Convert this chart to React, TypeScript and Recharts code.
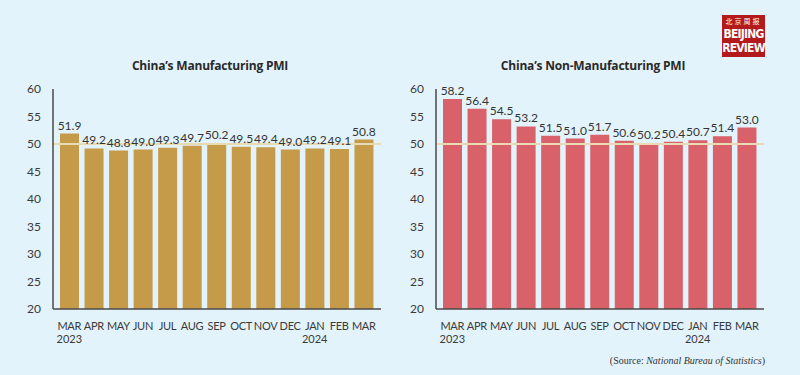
import React from 'react';
import { BarChart, Bar, XAxis, YAxis, ReferenceLine, LabelList } from 'recharts';

const MONTHS = ['MAR', 'APR', 'MAY', 'JUN', 'JUL', 'AUG', 'SEP', 'OCT', 'NOV', 'DEC', 'JAN', 'FEB', 'MAR'];
const YEARS = ['2023', '', '', '', '', '', '', '', '', '', '2024', '', ''];
const MANUFACTURING = [51.9, 49.2, 48.8, 49.0, 49.3, 49.7, 50.2, 49.5, 49.4, 49.0, 49.2, 49.1, 50.8];
const NON_MANUFACTURING = [58.2, 56.4, 54.5, 53.2, 51.5, 51.0, 51.7, 50.6, 50.2, 50.4, 50.7, 51.4, 53.0];
const Y_TICKS = [20, 25, 30, 35, 40, 45, 50, 55, 60];

const BG = '#e3f3fb';
const TITLE_FONT = '"Open Sans", "Noto Sans", sans-serif';
const FONT = 'Lato, "Open Sans", sans-serif';
const AXIS = '#4a4a4a';

const buildData = (values: number[]) =>
  MONTHS.map((m, i) => ({ key: `${m}-${i}`, month: m, year: YEARS[i], value: values[i] }));

function MonthTick({ x, y, payload }: { x?: number; y?: number; payload?: { index: number } }) {
  const i = payload?.index ?? 0;
  return (
    <g>
      <text x={x} y={y} dy={13} textAnchor="middle" fill="#3a3a3a" fontSize={11} fontFamily={FONT} style={{ letterSpacing: '-0.3px' }}>
        {MONTHS[i]}
      </text>
      {YEARS[i] && (
        <text x={x} y={y} dy={26} textAnchor="middle" fill="#3a3a3a" fontSize={11} fontFamily={FONT}>
          {YEARS[i]}
        </text>
      )}
    </g>
  );
}

function PmiChart({ title, values, color }: { title: string; values: number[]; color: string }) {
  const data = buildData(values);
  return (
    <div style={{ position: 'relative', width: 400, height: 375 }}>
      <div
        style={{
          position: 'absolute',
          top: 57,
          left: 0,
          width: 420,
          textAlign: 'center',
          fontFamily: TITLE_FONT,
          fontWeight: 700,
          fontSize: 12,
          color: '#2a2a2a',
          letterSpacing: '-0.2px',
        }}
      >
        {title}
      </div>
      <BarChart width={400} height={375} data={data} margin={{ top: 89, right: 19, left: 0, bottom: 26 }}>
        <XAxis
          dataKey="key"
          interval={0}
          height={40}
          tickLine={false}
          axisLine={{ stroke: AXIS, strokeWidth: 1.5 }}
          tick={<MonthTick />}
          padding={{ left: 4, right: 5 }}
        />
        <YAxis
          width={53}
          domain={[20, 60]}
          ticks={Y_TICKS}
          tickLine={false}
          axisLine={{ stroke: AXIS, strokeWidth: 1.5 }}
          tick={{ fill: '#3a3a3a', fontSize: 12, fontFamily: FONT }}
          tickMargin={6}
          allowDataOverflow
        />
        <Bar dataKey="value" fill={color} barSize={19} isAnimationActive={false}>
          <LabelList dataKey="value" position="top" offset={4} fill="#333" fontSize={12} fontFamily={FONT} formatter={(v: number) => v.toFixed(1)} />
        </Bar>
        <ReferenceLine y={50} stroke="#e8dbb3" strokeWidth={2} />
      </BarChart>
    </div>
  );
}

function Logo() {
  return (
    <div
      style={{
        position: 'absolute',
        left: 722,
        top: 15,
        width: 43,
        height: 42,
        background: '#b31a1c',
        color: '#fff',
        textAlign: 'center',
        fontFamily: '"DejaVu Sans Condensed", "Liberation Sans Narrow", sans-serif',
        fontWeight: 700,
        lineHeight: 1,
      }}
    >
      <div style={{ fontSize: 7, fontWeight: 400, marginTop: 3, fontFamily: '"Noto Sans CJK SC", sans-serif', letterSpacing: '2px' }}>北京周报</div>
      <div style={{ fontSize: 12, marginTop: 3, letterSpacing: '-0.8px' }}>BEIJING</div>
      <div style={{ fontSize: 12, marginTop: 2, letterSpacing: '-0.8px' }}>REVIEW</div>
    </div>
  );
}

export default function App() {
  return (
    <div style={{ position: 'absolute', left: 0, top: 0, width: 800, height: 375, background: BG, overflow: 'hidden' }}>
      <div style={{ position: 'absolute', left: 0, top: 0 }}>
        <PmiChart title="China’s Manufacturing PMI" values={MANUFACTURING} color="#c59a49" />
      </div>
      <div style={{ position: 'absolute', left: 383, top: 0 }}>
        <PmiChart title="China’s Non-Manufacturing PMI" values={NON_MANUFACTURING} color="#d9616a" />
      </div>
      <Logo />
      <div
        style={{
          position: 'absolute',
          right: 35,
          top: 355,
          fontFamily: '"Liberation Serif", "DejaVu Serif", serif',
          fontSize: 10,
          color: '#333',
        }}
      >
        (Source: <i>National Bureau of Statistics</i>)
      </div>
    </div>
  );
}
